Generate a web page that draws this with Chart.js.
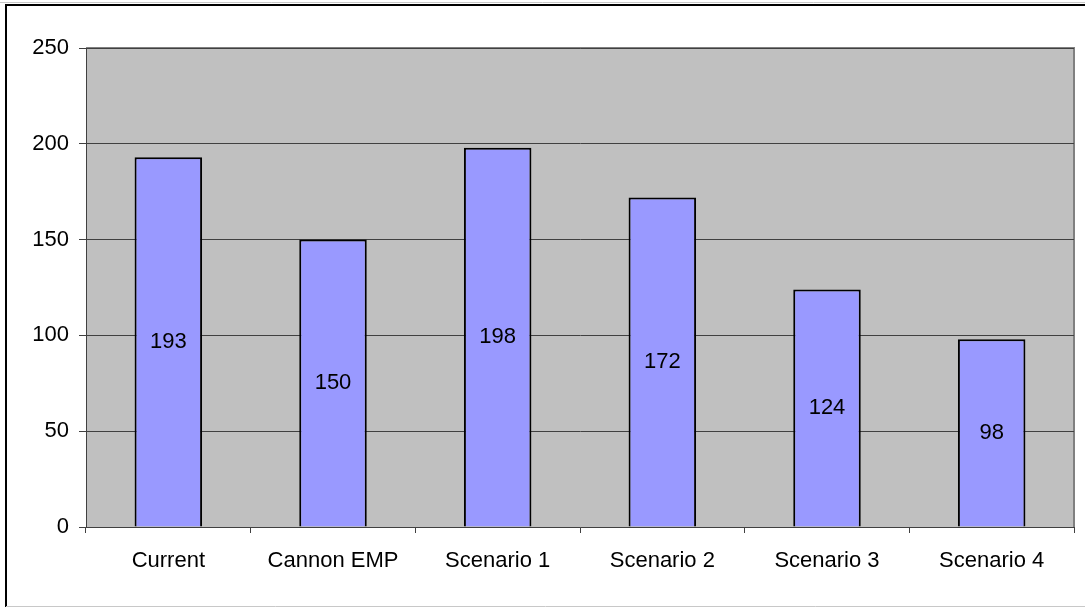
<!DOCTYPE html>
<html>
<head>
  <title>Scenarios</title>
  <script src="https://cdn.jsdelivr.net/npm/chart.js"></script>
  <style>
    html, body { margin: 0; padding: 0; background: white; }
    canvas { display: block; }
  </style>
</head>
<body>
  <canvas id="chart" width="1085" height="607"></canvas>
  <script>
    const categories = ["Current", "Cannon EMP", "Scenario 1", "Scenario 2", "Scenario 3", "Scenario 4"];
    const values = [193, 150, 198, 172, 124, 98];
    const yTicks = [0, 50, 100, 150, 200, 250];

    const font = { family: "Liberation Sans, Arial, sans-serif", size: 22 };

    // grey plot area, plot frame and the outer chart frame
    const frame = {
      id: "frame",
      beforeDraw(chart) {
        const { ctx, chartArea: a } = chart;
        ctx.save();
        ctx.fillStyle = "#c0c0c0";
        ctx.fillRect(a.left, a.top, a.right - a.left, a.bottom - a.top);
        ctx.strokeStyle = "#808080";
        ctx.lineWidth = 2;
        ctx.beginPath();
        ctx.moveTo(a.left, a.top);
        ctx.lineTo(a.right, a.top);
        ctx.lineTo(a.right, a.bottom);
        ctx.stroke();
        ctx.strokeStyle = "#000";
        ctx.lineWidth = 2;
        ctx.beginPath();
        ctx.moveTo(6, 607);
        ctx.lineTo(6, 5);
        ctx.lineTo(1085, 5);
        ctx.stroke();
        ctx.strokeStyle = "#c8c8c8";
        ctx.lineWidth = 1;
        ctx.beginPath();
        ctx.moveTo(6, 606.5);
        ctx.lineTo(1085, 606.5);
        ctx.moveTo(0, 2.5);
        ctx.lineTo(1085, 2.5);
        ctx.stroke();
        ctx.restore();
      }
    };

    // value labels in the middle of each bar
    const barLabels = {
      id: "barLabels",
      afterDatasetsDraw(chart) {
        const { ctx } = chart;
        const meta = chart.getDatasetMeta(0);
        ctx.save();
        ctx.fillStyle = "#000";
        ctx.font = font.size + "px " + font.family;
        ctx.textAlign = "center";
        ctx.textBaseline = "middle";
        meta.data.forEach((bar, i) => {
          ctx.fillText(String(values[i]), bar.x, (bar.y + bar.base) / 2);
        });
        ctx.restore();
      }
    };

    new Chart(document.getElementById("chart"), {
      type: "bar",
      data: {
        labels: categories,
        datasets: [{
          data: values,
          backgroundColor: "#9999ff",
          borderColor: "#000",
          borderWidth: 2,
          barPercentage: 0.41,
          categoryPercentage: 1
        }]
      },
      options: {
        responsive: false,
        animation: false,
        layout: { padding: { left: 0, top: 48, right: 11, bottom: 0 } },
        plugins: { legend: { display: false }, tooltip: { enabled: false } },
        scales: {
          x: {
            offset: true,
            grid: { offset: true, drawOnChartArea: false, color: "#404040", tickLength: 6 },
            border: { color: "#404040", width: 1 },
            ticks: { color: "#000", font: font, padding: 15, maxRotation: 0 },
            afterFit(scale) { scale.height = 80; }
          },
          y: {
            min: 0,
            max: 250,
            afterBuildTicks(scale) { scale.ticks = yTicks.map(v => ({ value: v })); },
            grid: { color: "#404040", tickLength: 7 },
            border: { color: "#404040", width: 1 },
            ticks: { color: "#000", font: font, padding: 10 },
            afterFit(scale) { scale.width = 86; }
          }
        }
      },
      plugins: [frame, barLabels]
    });
  </script>
</body>
</html>
